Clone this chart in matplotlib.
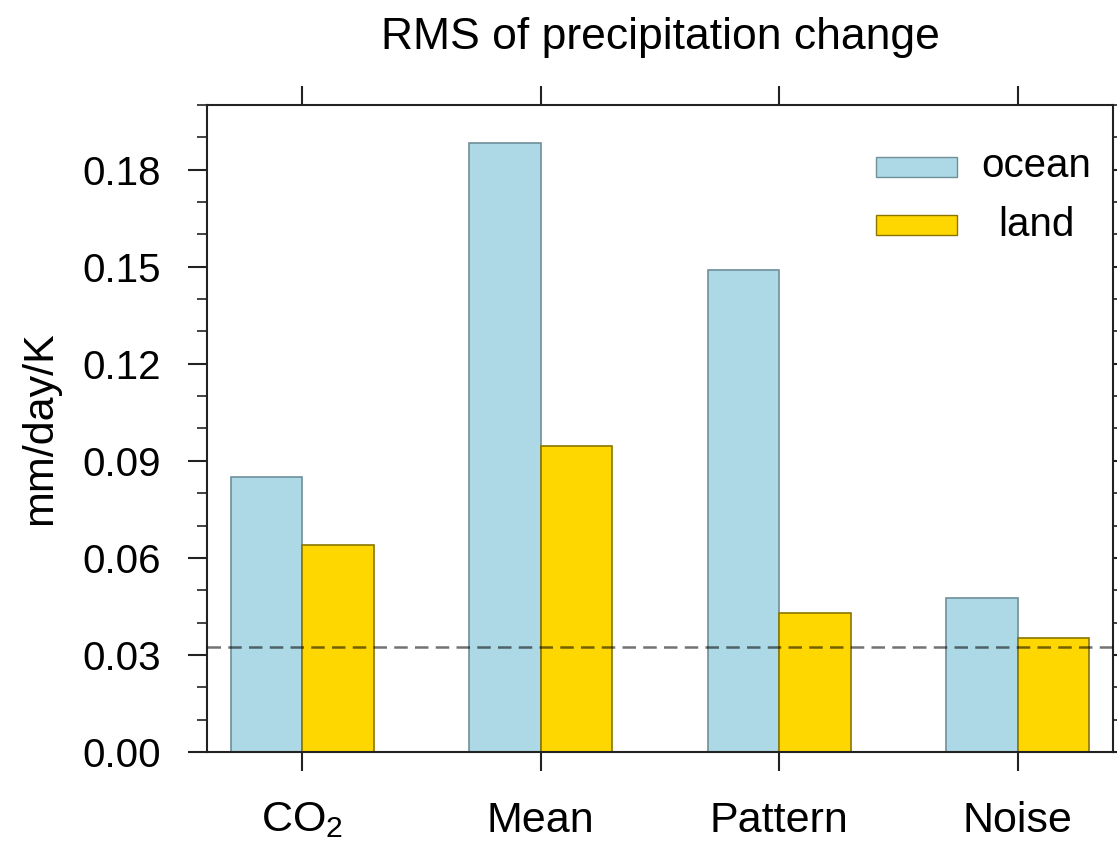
import matplotlib
matplotlib.use("Agg")
import matplotlib.pyplot as plt
from matplotlib.patches import Rectangle
import numpy as np

plt.rcParams['font.family'] = ['Liberation Sans', 'DejaVu Sans']
plt.rcParams['mathtext.fontset'] = 'custom'
plt.rcParams['mathtext.rm'] = 'Liberation Sans'

categories = [r'CO$_2$', 'Mean', 'Pattern', 'Noise']
ocean = [0.0850, 0.1882, 0.1489, 0.0477]
land = [0.0640, 0.0945, 0.0430, 0.0352]
threshold = 0.0324
yticks = [0.00, 0.03, 0.06, 0.09, 0.12, 0.15, 0.18]
ytick_labels = ['0.00', '0.03', '0.06', '0.09', '0.12', '0.15', '0.18']
series_names = ['ocean', 'land']

ocean_color = '#ADD8E6'
land_color = '#FFD700'
ocean_edge = '#6f8f99'
land_edge = '#8a7500'
spine_c = '#222222'

fig = plt.figure(figsize=(11.17, 8.43), dpi=100)
ax = fig.add_axes([0.1853, 0.1080, 0.8111, 0.7674])

x = np.arange(1, len(categories) + 1)
w = 0.3
ax.bar(x - w, ocean, width=w, align='edge', color=ocean_color, edgecolor=ocean_edge, linewidth=1.2, zorder=2)
ax.bar(x, land, width=w, align='edge', color=land_color, edgecolor=land_edge, linewidth=1.2, zorder=2)
ax.axhline(threshold, color='black', alpha=0.55, linewidth=1.8, dashes=(5.4, 2.9), zorder=3)

ax.set_xlim(0.6, 4.4)
ax.set_ylim(0, 0.2)
ax.set_xticks(x)
ax.set_xticklabels(categories, fontsize=31)
ax.set_yticks(yticks)
ax.set_yticklabels(ytick_labels, fontsize=29)
ax.set_yticks(np.arange(0, 0.2001, 0.01), minor=True)

ax.tick_params(axis='both', which='major', direction='out', length=14, width=1.5, color=spine_c)
ax.tick_params(axis='y', which='minor', direction='out', length=7, width=1.2, color=spine_c)
ax.tick_params(axis='x', which='major', top=True, pad=21)
ax.tick_params(axis='y', which='both', right=True, pad=19)
ax.tick_params(axis='y', which='minor', right=True)

for s in ax.spines.values():
    s.set_linewidth(1.5)
    s.set_color(spine_c)

ax.set_ylabel('mm/day/K', fontsize=31, labelpad=16)

fig.text(0.5909, 1 - 37 / 843, 'RMS of precipitation change', fontsize=32,
         ha='center', va='center')

# legend
leg_items = [(series_names[0], ocean_color, ocean_edge), (series_names[1], land_color, land_edge)]
ys = [0.889, 0.799]
for (name, col, ec), yy in zip(leg_items, ys):
    ax.add_patch(Rectangle((0.738, yy), 0.09, 0.031, transform=ax.transAxes,
                           facecolor=col, edgecolor=ec, linewidth=1.0, clip_on=False, zorder=4))
    ax.text(0.915, yy + 0.016, name, transform=ax.transAxes, fontsize=29,
            ha='center', va='center')

fig.savefig('out.png', dpi=100)
